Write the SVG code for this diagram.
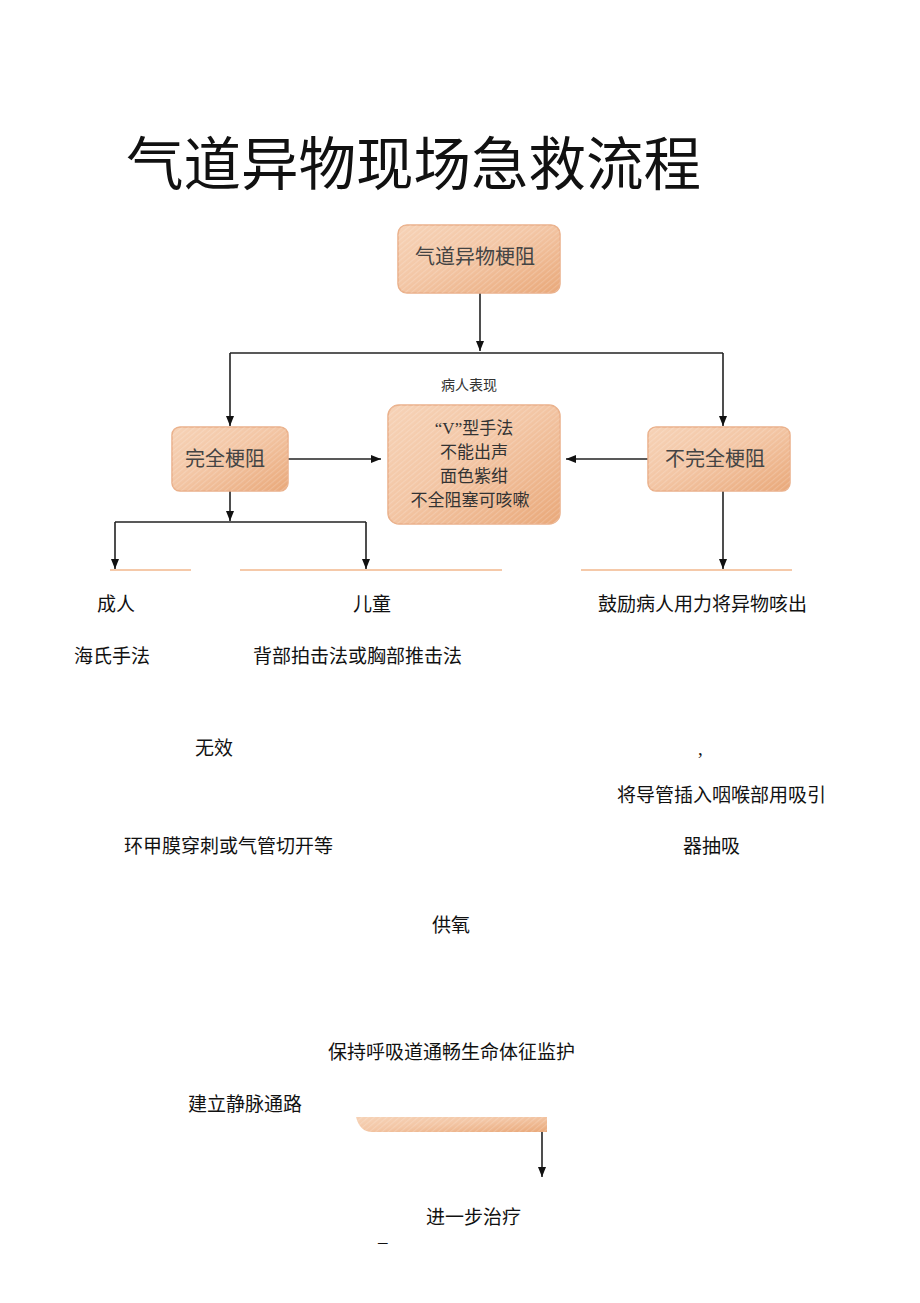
<svg xmlns="http://www.w3.org/2000/svg" width="920" height="1303" viewBox="0 0 920 1303">
<defs>
<linearGradient id="g" x1="0" y1="0" x2="1" y2="1">
<stop offset="0" stop-color="#f6d2b6"/>
<stop offset="0.45" stop-color="#f3c6a5"/>
<stop offset="1" stop-color="#e9a879"/>
</linearGradient>
<pattern id="st" width="4" height="4" patternUnits="userSpaceOnUse" patternTransform="rotate(-40)">
<rect width="4" height="1.2" fill="#ffffff" opacity="0.18"/>
</pattern>
<marker id="ah" viewBox="0 0 10 10" refX="10" refY="5" markerWidth="10" markerHeight="11" markerUnits="userSpaceOnUse" orient="auto">
<path d="M0,1 L10,5 L0,9 z" fill="#111"/>
</marker>
<style>
.box{fill:url(#g);stroke:#eab08a;stroke-width:1.5}
.ov{fill:url(#st)}
.bt{font-family:"Liberation Serif","Noto Sans CJK SC",serif;font-size:20px;fill:#444;text-anchor:middle}
.t{font-family:"Liberation Serif","Noto Sans CJK SC",serif;font-size:19px;fill:#111}
.c{fill:none;stroke:#222;stroke-width:1.6}
.ol{stroke:#f5c9a9;stroke-width:2}
</style>
</defs>
<text x="126" y="185" font-family="Liberation Serif,'Noto Sans CJK SC',serif" font-size="57.5" fill="#111">气道异物现场急救流程</text>

<g id="connectors">
<path class="c" d="M480,293 V351" marker-end="url(#ah)"/>
<path class="c" d="M230,353 H723"/>
<path class="c" d="M230,353 V426" marker-end="url(#ah)"/>
<path class="c" d="M723,353 V426" marker-end="url(#ah)"/>
<path class="c" d="M288,459 H381" marker-end="url(#ah)"/>
<path class="c" d="M648,459 H566" marker-end="url(#ah)"/>
<path class="c" d="M230,491 V521" marker-end="url(#ah)"/>
<path class="c" d="M115,522 H366"/>
<path class="c" d="M115,522 V569" marker-end="url(#ah)"/>
<path class="c" d="M366,522 V569" marker-end="url(#ah)"/>
<path class="c" d="M723,491 V569" marker-end="url(#ah)"/>
<path class="c" d="M542,1132 V1177" marker-end="url(#ah)"/>
</g>

<g id="n1">
<rect class="box" x="398" y="225" width="162" height="68" rx="9"/>
<rect class="ov" x="398" y="225" width="162" height="68" rx="9"/>
<text class="bt" x="475" y="264">气道异物梗阻</text>
</g>
<g id="label">
<rect x="428" y="368" width="94" height="36" fill="#fff"/>
<text x="469" y="390" font-family="Liberation Serif,'Noto Sans CJK SC',serif" font-size="14" fill="#333" text-anchor="middle">病人表现</text>
</g>
<g id="n2">
<rect class="box" x="388" y="405" width="172" height="119" rx="11"/>
<rect class="ov" x="388" y="405" width="172" height="119" rx="11"/>
<g font-family="Liberation Serif,'Noto Sans CJK SC',serif" font-size="17" fill="#333" text-anchor="middle">
<text x="474" y="434">“V”型手法</text>
<text x="474" y="458">不能出声</text>
<text x="474" y="482">面色紫绀</text>
<text x="470" y="506">不全阻塞可咳嗽</text>
</g>
</g>
<g id="n3">
<rect class="box" x="172" y="427" width="116" height="64" rx="8"/>
<rect class="ov" x="172" y="427" width="116" height="64" rx="8"/>
<text class="bt" x="225" y="466">完全梗阻</text>
</g>
<g id="n4">
<rect class="box" x="648" y="427" width="142" height="64" rx="8"/>
<rect class="ov" x="648" y="427" width="142" height="64" rx="8"/>
<text class="bt" x="715" y="466">不完全梗阻</text>
</g>

<g id="lines">
<line class="ol" x1="110" y1="570" x2="191" y2="570"/>
<line class="ol" x1="240" y1="570" x2="502" y2="570"/>
<line class="ol" x1="581" y1="570" x2="792" y2="570"/>
</g>

<g id="texts">
<text class="t" x="97" y="611">成人</text>
<text class="t" x="353" y="611">儿童</text>
<text class="t" x="598" y="611">鼓励病人用力将异物咳出</text>
<text class="t" x="74" y="663">海氏手法</text>
<text class="t" x="253" y="663">背部拍击法或胸部推击法</text>
<text class="t" x="195" y="755">无效</text>
<text class="t" x="698" y="755">,</text>
<text class="t" x="617" y="802">将导管插入咽喉部用吸引</text>
<text class="t" x="124" y="853">环甲膜穿刺或气管切开等</text>
<text class="t" x="683" y="853">器抽吸</text>
<text class="t" x="432" y="932">供氧</text>
<text class="t" x="328" y="1059">保持呼吸道通畅生命体征监护</text>
<text class="t" x="188" y="1111">建立静脉通路</text>
<text class="t" x="426" y="1224">进一步治疗</text>
<text class="t" x="378" y="1248" font-size="12">–</text>
</g>

<g id="bar">
<path d="M356,1117 H547 V1132 H372 Q360,1132 356,1117 z" fill="url(#g)"/>
<path d="M356,1117 H547 V1132 H372 Q360,1132 356,1117 z" fill="url(#st)"/>
</g>
</svg>
